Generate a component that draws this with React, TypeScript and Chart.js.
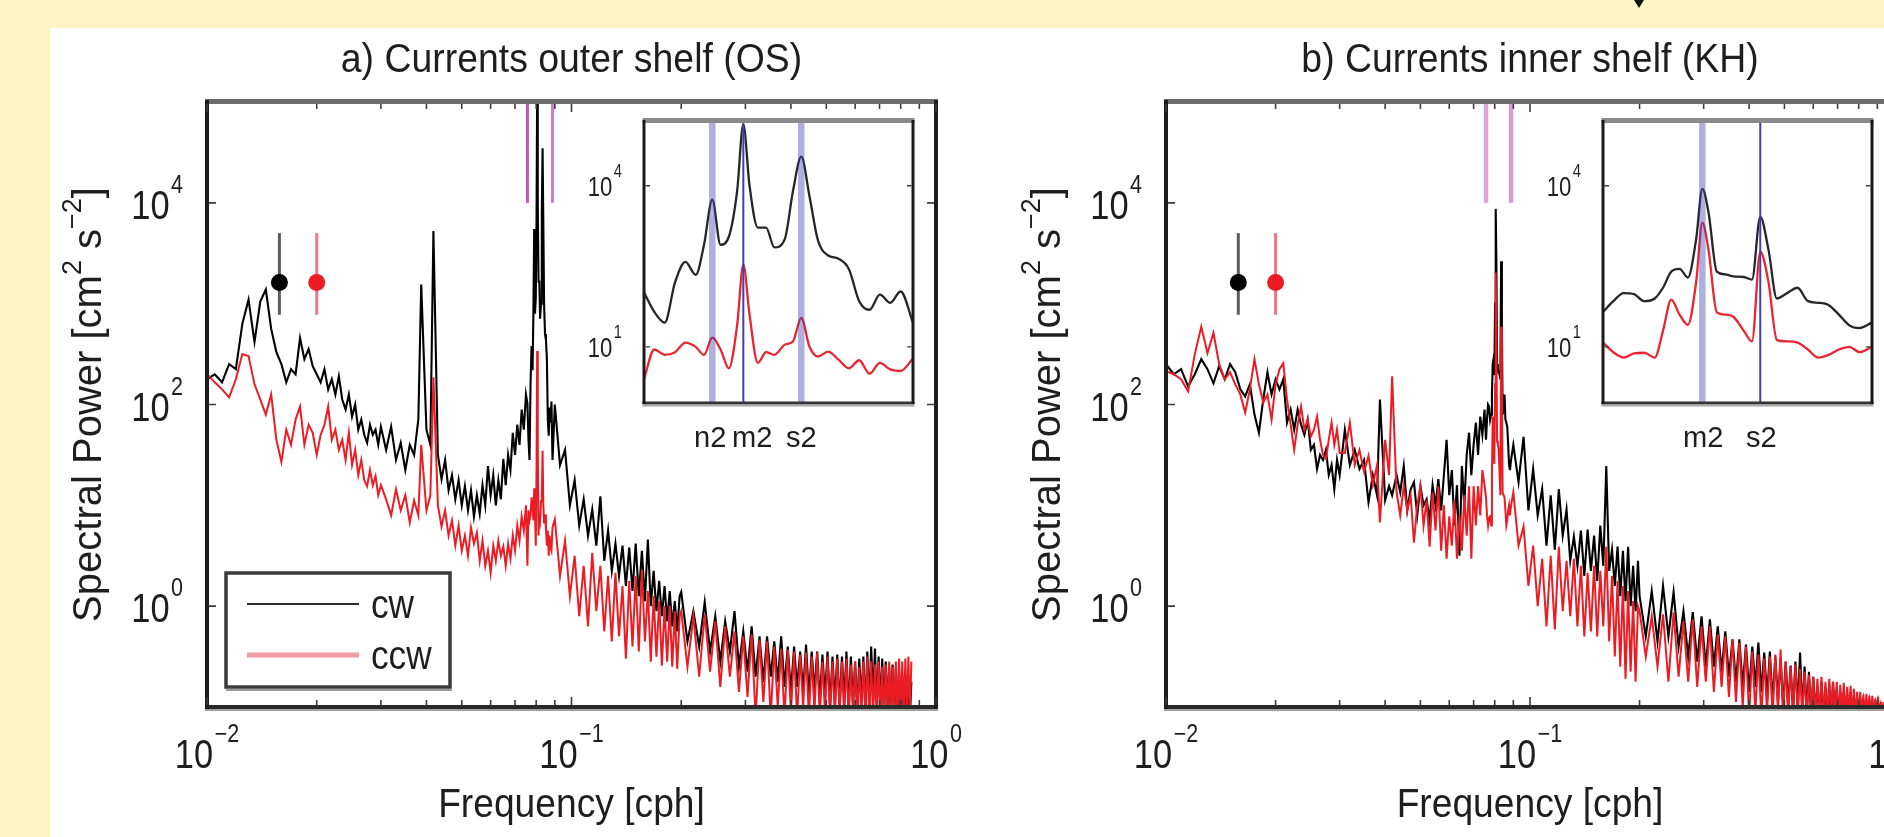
import React, { useEffect, useRef } from 'react';
import { Chart, registerables } from 'chart.js';

Chart.register(...registerables);

const FONT = '"Liberation Sans", Arial, Helvetica, sans-serif';
const PAGE_W = 1884;
const PAGE_H = 837;

// ---------------- frequency grid (cph) ----------------
const FREQ_LOW = [0.0100, 0.0105, 0.0110, 0.0115, 0.0120, 0.0125, 0.0130, 0.0135, 0.0140, 0.0145, 0.0150, 0.0155, 0.0160, 0.0165, 0.0170, 0.0175, 0.0180, 0.0185, 0.0190, 0.0195, 0.0200, 0.0205, 0.0210, 0.0215, 0.0220, 0.0225, 0.0230, 0.0235, 0.0240, 0.0245, 0.0250, 0.0255, 0.0260, 0.0265, 0.0270, 0.0275, 0.0280, 0.0285, 0.0290, 0.0295, 0.0300];
const FREQ_MID = [0.031, 0.032, 0.033, 0.034, 0.035, 0.036, 0.037, 0.038, 0.0387, 0.040, 0.041, 0.0418, 0.043, 0.044, 0.045, 0.046, 0.047, 0.048, 0.049, 0.050, 0.051, 0.052, 0.053, 0.054, 0.055, 0.056, 0.057, 0.058, 0.059, 0.060, 0.061, 0.062, 0.063, 0.064, 0.065, 0.066, 0.067, 0.068, 0.069, 0.070, 0.071, 0.072, 0.073, 0.074, 0.075];
const FREQ_TIDE = [0.0757, 0.0762, 0.0767, 0.0772, 0.0777, 0.0782, 0.0786, 0.0790, 0.0794, 0.0798, 0.0802, 0.0805, 0.0808, 0.0812, 0.0816, 0.0820, 0.0825, 0.0829, 0.0833, 0.0837, 0.0841, 0.0846, 0.0851, 0.0856, 0.0861, 0.0866, 0.0871, 0.0876, 0.0881, 0.0887];
const FREQ_D = [0.090, 0.093, 0.096, 0.099, 0.102, 0.105, 0.108, 0.111, 0.114, 0.117, 0.120, 0.123, 0.126, 0.129, 0.132, 0.135, 0.138, 0.141, 0.144, 0.147, 0.150, 0.153, 0.156, 0.159, 0.162, 0.165, 0.168, 0.171, 0.174, 0.177, 0.180, 0.183, 0.186, 0.189, 0.192, 0.195, 0.198];
const FREQ_HIGH = [0.200, 0.208, 0.216, 0.224, 0.232, 0.240, 0.248, 0.256, 0.264, 0.272, 0.280, 0.288, 0.296, 0.304, 0.312, 0.320, 0.328, 0.336, 0.344, 0.352, 0.360, 0.368, 0.376, 0.384, 0.392, 0.400, 0.408, 0.416, 0.424, 0.432, 0.440, 0.448, 0.456, 0.464, 0.472, 0.480, 0.488, 0.496, 0.504, 0.512, 0.520, 0.528, 0.536, 0.544, 0.552, 0.560, 0.568, 0.576, 0.584, 0.592, 0.600, 0.608, 0.616, 0.624, 0.632, 0.640, 0.648, 0.656, 0.664, 0.672, 0.680, 0.688, 0.696, 0.704, 0.712, 0.720, 0.728, 0.736, 0.744, 0.752, 0.760, 0.768, 0.776, 0.784, 0.792, 0.800, 0.808, 0.816, 0.824, 0.832, 0.840, 0.848, 0.856];
const FREQ_TAIL = [0.864, 0.872, 0.880, 0.888, 0.896, 0.904, 0.912, 0.920, 0.928, 0.936];

// ---------------- log10 spectral power [cm^2 s^-2], panel a (OS) ----------------
const osCwLow = [2.25, 2.30, 2.22, 2.40, 2.35, 2.80, 3.04, 2.62, 3.02, 3.14, 2.75, 2.52, 2.40, 2.22, 2.35, 2.30, 2.66, 2.45, 2.55, 2.38, 2.30, 2.22, 2.35, 2.15, 2.25, 2.10, 2.28, 2.05, 1.95, 2.10, 1.88, 2.00, 1.75, 1.85, 1.70, 1.62, 1.80, 1.70, 1.75, 1.60, 1.78];
const osCcwLow = [2.30, 2.22, 2.15, 2.07, 2.25, 2.50, 2.48, 2.20, 2.05, 1.90, 2.10, 1.65, 1.43, 1.75, 1.60, 1.85, 1.98, 1.60, 1.80, 1.72, 1.50, 1.70, 1.80, 1.98, 1.65, 1.75, 1.55, 1.65, 1.45, 1.72, 1.40, 1.55, 1.30, 1.45, 1.25, 1.19, 1.35, 1.20, 1.29, 1.10, 1.20];
const osCwMid = [1.55, 1.78, 1.45, 1.62, 1.35, 1.60, 1.50, 1.85, 3.19, 1.75, 1.60, 3.72, 1.50, 1.26, 1.45, 1.15, 1.30, 1.06, 1.25, 1.00, 1.19, 0.95, 1.15, 0.89, 1.10, 0.92, 1.20, 1.00, 1.39, 1.10, 1.30, 1.00, 1.25, 1.06, 1.46, 1.20, 1.50, 1.35, 1.72, 1.50, 1.80, 1.60, 1.95, 1.75, 2.10];
const osCcwMid = [1.06, 0.90, 1.16, 0.95, 1.10, 0.83, 1.05, 0.90, 1.60, 0.95, 1.10, 2.27, 1.00, 0.79, 0.95, 0.70, 0.85, 0.60, 0.80, 0.55, 0.70, 0.50, 0.78, 0.62, 0.73, 0.45, 0.65, 0.40, 0.55, 0.33, 0.60, 0.45, 0.65, 0.50, 0.59, 0.40, 0.62, 0.47, 0.70, 0.55, 0.80, 0.65, 0.89, 0.75, 1.00];
const osCwTide = [2.01, 1.65, 1.45, 2.20, 2.58, 2.34, 2.90, 3.74, 2.90, 3.05, 3.90, 5.14, 4.00, 3.22, 3.22, 2.85, 3.00, 3.90, 4.54, 3.80, 2.99, 2.70, 2.64, 2.45, 1.85, 1.69, 1.97, 1.82, 2.03, 1.45];
const osCcwTide = [0.40, 0.95, 0.85, 0.90, 1.08, 1.00, 0.85, 1.17, 0.95, 0.60, 1.40, 2.53, 1.60, 0.70, 0.90, 0.85, 1.04, 1.10, 1.54, 1.00, 0.82, 0.91, 0.76, 0.60, 0.75, 0.50, 0.70, 0.58, 0.55, 0.78];
const osCwD = [2.00, 1.40, 1.55, 1.00, 1.25, 0.80, 1.06, 0.70, 0.96, 0.60, 1.09, 0.45, 0.75, 0.35, 0.62, 0.30, 0.60, 0.20, 0.58, 0.15, 0.62, 0.10, 0.55, 0.05, 0.66, 0.00, 0.35, -0.05, 0.25, -0.10, 0.20, -0.15, 0.15, -0.20, 0.05, -0.25, 0.10];
const osCcwD = [0.86, 0.30, 0.65, 0.10, 0.50, -0.10, 0.40, -0.20, 0.53, -0.05, 0.40, -0.25, 0.30, -0.35, 0.33, -0.30, 0.20, -0.52, 0.25, -0.40, 0.30, -0.45, 0.36, -0.35, 0.15, -0.55, 0.10, -0.50, 0.05, -0.59, 0.00, -0.55, 0.00, -0.60, -0.05, -0.62, -0.10];
const osCwHigh = [
  0.14, -0.35, -0.05, -0.40, 0.04, -0.45, -0.10, -0.55, -0.15, -0.45,
  -0.05, -0.60, -0.25, -0.65, -0.20, -0.70, -0.30, -0.75, -0.30, -0.70,
  -0.35, -0.75, -0.30, -0.80, -0.40, -0.85, -0.40, -0.80, -0.45, -0.85,
  -0.38, -0.90, -0.45, -0.85, -0.45, -0.95, -0.48, -0.90, -0.45, -1.00,
  -0.50, -0.95, -0.48, -1.00, -0.50, -0.95, -0.45, -1.05, -0.50, -0.98,
  -0.55, -1.05, -0.52, -0.95, -0.50, -1.05, -0.45, -1.00, -0.40, -0.95,
  -0.42, -1.05, -0.50, -1.00, -0.52, -1.10, -0.55, -1.00, -0.60, -1.10,
  -0.58, -1.05, -0.62, -1.10, -0.65, -1.05, -0.68, -1.10, -0.70, -1.05,
  -0.72, -1.10, -0.75];
const osCcwHigh = [
  -0.05, -0.60, -0.10, -0.70, -0.08, -0.65, -0.15, -0.80, -0.20, -0.70,
  -0.25, -0.85, -0.30, -0.90, -0.28, -1.10, -0.33, -0.95, -0.35, -1.10,
  -0.40, -1.00, -0.42, -1.10, -0.43, -1.05, -0.45, -1.10, -0.48, -1.00,
  -0.46, -1.10, -0.50, -1.05, -0.46, -1.10, -0.55, -1.05, -0.50, -1.10,
  -0.55, -1.10, -0.52, -1.05, -0.55, -1.10, -0.52, -1.10, -0.58, -1.05,
  -0.55, -1.10, -0.60, -1.10, -0.55, -1.05, -0.50, -1.10, -0.55, -1.10,
  -0.58, -1.05, -0.55, -1.10, -0.60, -1.10, -0.58, -1.05, -0.55, -1.10,
  -0.60, -1.10, -0.55, -1.10, -0.52, -1.10, -0.55, -1.10, -0.52, -1.05,
  -0.50, -1.10, -0.55];

// ---------------- log10 spectral power, panel b (KH) ----------------
const khCwLow = [2.40, 2.30, 2.35, 2.18, 2.30, 2.45, 2.35, 2.21, 2.38, 2.25, 2.40, 2.32, 2.15, 2.08, 2.20, 1.90, 1.72, 2.05, 2.32, 2.10, 2.25, 2.15, 2.25, 1.82, 1.95, 1.75, 1.95, 1.80, 1.70, 1.85, 1.55, 1.60, 1.36, 1.50, 1.45, 1.55, 1.30, 1.40, 1.16, 1.45, 1.30];
const khCcwLow = [2.33, 2.30, 2.25, 2.13, 2.50, 2.77, 2.51, 2.71, 2.40, 2.25, 2.32, 2.20, 2.10, 1.92, 2.15, 2.45, 2.20, 2.02, 2.10, 1.85, 2.20, 2.35, 2.41, 2.05, 1.80, 1.55, 1.80, 1.98, 1.75, 1.85, 1.68, 1.75, 1.88, 1.65, 1.50, 1.46, 1.65, 1.82, 1.60, 1.75, 1.52];
const khCwMid = [1.75, 1.40, 1.55, 1.36, 1.45, 1.03, 1.30, 1.10, 2.05, 1.05, 1.19, 1.10, 1.30, 1.13, 1.39, 0.95, 1.16, 1.23, 0.90, 1.19, 1.00, 1.06, 0.85, 1.20, 1.00, 1.26, 0.95, 1.30, 1.65, 1.10, 1.35, 0.80, 1.20, 0.50, 1.39, 1.00, 1.50, 1.72, 1.30, 1.60, 1.82, 1.50, 1.88, 1.70, 1.95];
const khCcwMid = [1.52, 1.82, 1.40, 1.55, 1.33, 1.49, 1.20, 1.40, 0.83, 1.65, 1.30, 2.28, 1.13, 0.90, 1.19, 0.95, 1.10, 0.63, 1.00, 1.19, 0.80, 1.05, 0.59, 1.13, 0.75, 1.19, 0.55, 1.00, 0.47, 0.89, 0.60, 1.05, 0.47, 0.90, 0.55, 1.10, 0.70, 1.19, 0.47, 1.19, 0.80, 1.19, 0.90, 1.35, 1.20];
const khCwTide = [1.65, 1.85, 2.00, 1.98, 1.85, 1.90, 2.10, 2.40, 2.45, 2.29, 3.00, 3.94, 3.50, 2.40, 2.35, 2.31, 2.30, 2.25, 3.42, 2.80, 1.90, 2.00, 2.10, 1.85, 1.82, 1.78, 1.60, 1.40, 1.35, 1.45];
const khCcwTide = [1.08, 0.90, 0.80, 0.88, 0.89, 0.80, 1.30, 1.88, 1.60, 1.41, 2.20, 3.31, 2.80, 1.64, 1.60, 1.56, 1.30, 1.10, 2.77, 2.20, 1.13, 1.10, 1.08, 0.95, 0.80, 0.85, 0.95, 1.00, 0.90, 1.00];
const khCwD = [1.60, 1.23, 1.68, 0.95, 1.36, 0.90, 1.16, 0.60, 1.10, 0.56, 1.16, 0.70, 0.96, 0.45, 0.69, 0.40, 0.75, 0.30, 0.76, 0.35, 0.70, 0.25, 0.80, 0.40, 1.39, 0.35, 0.56, 0.20, 0.59, 0.10, 0.55, 0.05, 0.59, 0.00, 0.40, -0.05, 0.45];
const khCcwD = [1.13, 0.60, 0.79, 0.20, 0.60, 0.00, 0.47, -0.20, 0.50, -0.23, 0.59, -0.05, 0.45, -0.10, 0.47, -0.20, 0.40, -0.30, 0.33, -0.25, 0.40, -0.30, 0.35, -0.20, 0.59, -0.35, 0.30, -0.50, 0.25, -0.60, 0.20, -0.72, 0.15, -0.65, 0.05, -0.75, 0.00];
const khCwHigh = [
  0.10, -0.30, 0.15, -0.35, 0.20, -0.30, 0.14, -0.40, -0.05, -0.50,
  -0.06, -0.55, -0.10, -0.60, -0.13, -0.60, -0.20, -0.65, -0.25, -0.70,
  -0.33, -0.75, -0.33, -0.80, -0.38, -0.85, -0.40, -0.80, -0.36, -0.85,
  -0.46, -0.90, -0.45, -0.95, -0.50, -0.95, -0.52, -1.00, -0.55, -1.00,
  -0.59, -1.05, -0.55, -1.00, -0.46, -1.05, -0.60, -1.05, -0.65, -1.10,
  -0.70, -1.05, -0.79, -1.10, -0.75, -1.10, -0.80, -1.10, -0.78, -1.10,
  -0.75, -1.10, -0.82, -1.10, -0.85, -1.10, -0.85, -1.10, -0.88, -1.10,
  -0.85, -1.10, -0.90, -1.10, -0.90, -1.10, -0.92, -1.10, -0.95, -1.10,
  -0.95, -1.10, -0.96];
const khCwTail = [-1.10, -0.95, -1.10, -0.98, -1.10, -0.97, -1.10, -1.00, -1.10, -1.00];
const khCcwHigh = [
  -0.05, -0.50, -0.10, -0.60, -0.08, -0.75, -0.06, -0.70, -0.15, -0.75,
  -0.13, -0.80, -0.20, -0.75, -0.20, -0.85, -0.28, -0.80, -0.30, -0.90,
  -0.33, -0.95, -0.36, -1.00, -0.40, -1.10, -0.45, -1.05, -0.48, -1.10,
  -0.52, -1.05, -0.50, -1.10, -0.48, -1.05, -0.43, -1.10, -0.55, -1.10,
  -0.60, -1.05, -0.58, -1.10, -0.62, -1.10, -0.65, -1.10, -0.68, -1.05,
  -0.70, -1.10, -0.72, -1.10, -0.70, -1.10, -0.75, -1.10, -0.72, -1.10,
  -0.75, -1.10, -0.75, -1.10, -0.78, -1.10, -0.76, -1.10, -0.80, -1.10,
  -0.79, -1.10, -0.82, -1.10, -0.85, -1.10, -0.85, -1.10, -0.88, -1.10,
  -0.87, -1.10, -0.89];
const khCcwTail = [-1.10, -0.89, -1.10, -0.92, -1.10, -0.90, -1.10, -0.95, -1.10, -0.95];

// ---------------- annotations ----------------
const TIDE_NAMES = ['n2', 'm2', 's2'];
const TIDE_FREQS = [0.0790, 0.0805, 0.0833];
const INSET_RANGE = [0.0757, 0.0887];
const MAG_LOW = 1e4;
const MAG_HIGH = 1e5;
const ERR_FREQ = [0.0158, 0.0200];
const ERR_MID = [1620, 1620];
const ERR_LO = [776, 776];
const ERR_HI = [5010, 5010];
const LEGEND_LABELS = ['cw', 'ccw'];

// axes
const X_MAJOR = [0.01, 0.1, 1];
const X_MINOR = [0.02, 0.03, 0.04, 0.05, 0.06, 0.07, 0.08, 0.09, 0.2, 0.3, 0.4, 0.5, 0.6, 0.7, 0.8, 0.9];
const Y_MAJOR = [1, 100, 10000];
const INSET_Y_MAJOR = [10, 10000];

const FREQ_GROUPS = [FREQ_LOW, FREQ_MID, FREQ_TIDE, FREQ_D, FREQ_HIGH, FREQ_TAIL];

function toPoints(groups: any[]) {
  const pts: any[] = [];
  FREQ_GROUPS.forEach((fs, g) => {
    const vals = groups[g];
    if (!vals) return;
    fs.forEach((f, i) => {
      if (i < vals.length) pts.push({ x: f, y: Math.pow(10, vals[i]) });
    });
  });
  return pts;
}
function tidePoints(vals: number[]) {
  return FREQ_TIDE.map((f, i) => ({ x: f, y: Math.pow(10, vals[i]) }));
}

// ---------------- text helpers ----------------
function txt(ctx: any, s: string, x: number, y: number, size: number, sx = 1, align = 'left', color = '#1e1e1e') {
  ctx.save();
  ctx.font = `${size}px ${FONT}`;
  ctx.fillStyle = color;
  ctx.textBaseline = 'alphabetic';
  ctx.textAlign = align;
  ctx.translate(x, y);
  ctx.scale(sx, 1);
  ctx.fillText(s, 0, 0);
  ctx.restore();
}
function measure(ctx: any, s: string, size: number, sx = 1) {
  ctx.save();
  ctx.font = `${size}px ${FONT}`;
  const w = ctx.measureText(s).width * sx;
  ctx.restore();
  return w;
}
function pow10Label(ctx: any, value: number, x: number, base: number, align: string, big: number, small: number, raise: number, sx: number) {
  const exp = Math.round(Math.log10(value));
  const e = exp < 0 ? '\u2212' + Math.abs(exp) : String(exp);
  const w10 = measure(ctx, '10', big, sx);
  const we = measure(ctx, e, small, sx);
  const gap = 1.5;
  const total = w10 + gap + we;
  const x0 = align === 'center' ? x - total / 2 : x - total;
  txt(ctx, '10', x0, base, big, sx);
  txt(ctx, e, x0 + w10 + gap, base - raise, small, sx);
}

// ---------------- panel definitions ----------------
const PANELS = [
  {
    id: 'os',
    title: 'a) Currents outer shelf (OS)',
    canvasW: PAGE_W,
    padding: { left: 207, top: 102, right: PAGE_W - 936, bottom: PAGE_H - 707 },
    cw: [osCwLow, osCwMid, osCwTide, osCwD, osCwHigh],
    ccw: [osCcwLow, osCcwMid, osCcwTide, osCcwD, osCcwHigh],
    magColors: ['#C254B4', '#CF7DC4'],
    magWidth: 3,
    legend: true,
  },
  {
    id: 'kh',
    title: 'b) Currents inner shelf (KH)',
    canvasW: PAGE_W + 20,
    padding: { left: 1166, top: 102, right: 10, bottom: PAGE_H - 707 },
    cw: [khCwLow, khCwMid, khCwTide, khCwD, khCwHigh, khCwTail],
    ccw: [khCcwLow, khCcwMid, khCcwTide, khCcwD, khCcwHigh, khCcwTail],
    magColors: ['#DBA5D7', '#D79ED3'],
    magWidth: 4.5,
    legend: false,
  },
];

const INSETS = [
  {
    id: 'os-inset',
    padding: { left: 644, top: 121, right: PAGE_W - 913, bottom: PAGE_H - 403 },
    cw: osCwTide,
    ccw: osCcwTide,
    lines: [
      { idx: 0, thick: true, dx: -2 },
      { idx: 1, thick: false, dx: 9 },
      { idx: 2, thick: true, dx: 0 },
    ],
  },
  {
    id: 'kh-inset',
    padding: { left: 1603, top: 121, right: PAGE_W - 1872, bottom: PAGE_H - 403 },
    cw: khCwTide,
    ccw: khCcwTide,
    lines: [
      { idx: 1, thick: true, dx: 1 },
      { idx: 2, thick: false, dx: 1 },
    ],
  },
];

// ---------------- plugins ----------------
function mainDecor(p: any) {
  return {
    id: 'mainDecor',
    afterDraw(chart: any) {
      const ctx = chart.ctx;
      const a = chart.chartArea;
      const xs = chart.scales.x;
      const ys = chart.scales.y;
      const w = a.right - a.left;
      const h = a.bottom - a.top;
      ctx.save();
      // frame
      ctx.fillStyle = '#6c6c6c';
      ctx.fillRect(a.left - 2, a.top - 3, w + 4, 5);
      ctx.fillStyle = '#2a2a2a';
      ctx.fillRect(a.left - 2, a.bottom - 2, w + 4, 4);
      ctx.fillStyle = '#a2a2a2';
      ctx.fillRect(a.left - 2, a.bottom + 2, w + 4, 2);
      ctx.fillStyle = '#1c1c1c';
      ctx.fillRect(a.left - 2, a.top - 2, 4, h + 4);
      ctx.fillRect(a.right - 2, a.top - 2, 4, h + 4);
      // ticks
      ctx.strokeStyle = '#3c3c3c';
      ctx.lineWidth = 1.6;
      const xt = (v: number, len: number) => {
        const px = xs.getPixelForValue(v);
        if (px < a.left - 1 || px > a.right + 1) return;
        ctx.beginPath();
        ctx.moveTo(px, a.bottom - 2);
        ctx.lineTo(px, a.bottom - 2 - len);
        ctx.moveTo(px, a.top + 2);
        ctx.lineTo(px, a.top + 2 + len);
        ctx.stroke();
      };
      X_MINOR.forEach((v) => xt(v, 5));
      X_MAJOR.forEach((v) => xt(v, 8));
      Y_MAJOR.forEach((v) => {
        const py = ys.getPixelForValue(v);
        ctx.beginPath();
        ctx.moveTo(a.left + 2, py);
        ctx.lineTo(a.left + 9, py);
        ctx.moveTo(a.right - 2, py);
        ctx.lineTo(a.right - 9, py);
        ctx.stroke();
      });
      // tick labels
      X_MAJOR.forEach((v) => pow10Label(ctx, v, xs.getPixelForValue(v), a.bottom + 61, 'center', 40, 25, 26, 0.86));
      Y_MAJOR.forEach((v) => pow10Label(ctx, v, a.left - 24, ys.getPixelForValue(v) + 16, 'right', 40, 25, 26, 0.86));
      // title
      txt(ctx, p.title, (a.left + a.right) / 2, a.top - 30, 40, 0.935, 'center');
      // x axis title
      txt(ctx, 'Frequency [cph]', (a.left + a.right) / 2, a.bottom + 110, 40, 0.93, 'center');
      // y axis title with superscripts
      const parts = [
        { t: 'Spectral Power [cm', sup: false },
        { t: '2', sup: true },
        { t: ' s', sup: false },
        { t: '\u22122', sup: true },
        { t: ']', sup: false },
      ];
      const big = 40;
      const small = 27;
      let total = 0;
      parts.forEach((q) => (total += measure(ctx, q.t, q.sup ? small : big)));
      ctx.save();
      ctx.translate(a.left - 106, (a.top + a.bottom) / 2);
      ctx.rotate(-Math.PI / 2);
      let cx = -total / 2;
      parts.forEach((q) => {
        const s = q.sup ? small : big;
        txt(ctx, q.t, cx, q.sup ? -20 : 0, s);
        cx += measure(ctx, q.t, s);
      });
      ctx.restore();
      // legend
      if (p.legend) {
        const lx = a.left + 19;
        const ly = a.bottom - 134;
        ctx.fillStyle = '#ffffff';
        ctx.fillRect(lx, ly, 224, 114);
        ctx.strokeStyle = '#3a3a3a';
        ctx.lineWidth = 3.5;
        ctx.strokeRect(lx, ly, 224, 114);
        ctx.fillStyle = '#9a9a9a';
        ctx.fillRect(lx, ly + 116, 226, 2);
        ctx.lineWidth = 2.2;
        ctx.strokeStyle = '#2a2a2a';
        ctx.beginPath();
        ctx.moveTo(lx + 21, a.bottom - 103);
        ctx.lineTo(lx + 133, a.bottom - 103);
        ctx.stroke();
        ctx.lineWidth = 5;
        ctx.strokeStyle = '#F39BA3';
        ctx.beginPath();
        ctx.moveTo(lx + 21, a.bottom - 52);
        ctx.lineTo(lx + 133, a.bottom - 52);
        ctx.stroke();
        txt(ctx, LEGEND_LABELS[0], lx + 145, a.bottom - 89, 40, 0.88);
        txt(ctx, LEGEND_LABELS[1], lx + 145, a.bottom - 38, 40, 0.88);
      }
      ctx.restore();
    },
  };
}

function insetDecor(p: any) {
  return {
    id: 'insetDecor',
    beforeDraw(chart: any) {
      const a = chart.chartArea;
      const ctx = chart.ctx;
      ctx.save();
      ctx.fillStyle = '#ffffff';
      ctx.fillRect(a.left, a.top, a.right - a.left, a.bottom - a.top);
      ctx.restore();
    },
    afterDraw(chart: any) {
      const ctx = chart.ctx;
      const a = chart.chartArea;
      const xs = chart.scales.x;
      const ys = chart.scales.y;
      const w = a.right - a.left;
      const h = a.bottom - a.top;
      ctx.save();
      ctx.fillStyle = '#8a8a8a';
      ctx.fillRect(a.left - 1.5, a.top - 3, w + 3, 5);
      ctx.fillStyle = '#333333';
      ctx.fillRect(a.left - 1.5, a.bottom - 1.5, w + 3, 3);
      ctx.fillStyle = '#a8a8a8';
      ctx.fillRect(a.left - 1.5, a.bottom + 1.5, w + 3, 2);
      ctx.fillStyle = '#1a1a1a';
      ctx.fillRect(a.left - 1.5, a.top - 1, 3, h + 2);
      ctx.fillRect(a.right - 1.5, a.top - 1, 3, h + 2);
      ctx.strokeStyle = '#3c3c3c';
      ctx.lineWidth = 1.4;
      INSET_Y_MAJOR.forEach((v) => {
        const py = ys.getPixelForValue(v);
        ctx.beginPath();
        ctx.moveTo(a.left + 1.5, py);
        ctx.lineTo(a.left + 6, py);
        ctx.moveTo(a.right - 1.5, py);
        ctx.lineTo(a.right - 6, py);
        ctx.stroke();
        pow10Label(ctx, v, a.left - 22, py + 10, 'right', 27, 18, 19, 0.82);
      });
      p.lines.forEach((l: any) => {
        const px = xs.getPixelForValue(TIDE_FREQS[l.idx]);
        txt(ctx, TIDE_NAMES[l.idx], px + l.dx, a.bottom + 44, 30, 0.97, 'center');
      });
      ctx.restore();
    },
  };
}

// ---------------- configs ----------------
function mainConfig(p: any) {
  const ds: any[] = [
    { label: 'cw', data: toPoints(p.cw), borderColor: '#000000', borderWidth: 2.1, pointRadius: 0, order: 6 },
    { label: 'ccw', data: toPoints(p.ccw), borderColor: '#EC1C24', borderWidth: 2.0, pointRadius: 0, order: 5 },
  ];
  ERR_FREQ.forEach((f, i) => {
    ds.push({
      label: LEGEND_LABELS[i] + ' error',
      data: [{ x: f, y: ERR_LO[i] }, { x: f, y: ERR_HI[i] }],
      borderColor: i ? '#F27780' : '#5c5c5c',
      borderWidth: 3,
      pointRadius: 0,
      order: 4,
    });
    ds.push({
      type: 'scatter',
      label: LEGEND_LABELS[i] + ' mean',
      data: [{ x: f, y: ERR_MID[i] }],
      pointRadius: 8.5,
      pointBackgroundColor: i ? '#EC1C24' : '#000000',
      pointBorderWidth: 0,
      borderWidth: 0,
      showLine: false,
      order: 3,
    });
  });
  INSET_RANGE.forEach((f, i) => {
    ds.push({
      label: 'inset range ' + (i + 1),
      data: [{ x: f, y: MAG_LOW }, { x: f, y: MAG_HIGH }],
      borderColor: p.magColors[i],
      borderWidth: p.magWidth,
      pointRadius: 0,
      order: 2,
    });
  });
  return {
    type: 'line',
    data: { datasets: ds },
    options: {
      responsive: false,
      animation: false,
      devicePixelRatio: 1,
      events: [],
      layout: { padding: p.padding },
      plugins: { legend: { display: false }, tooltip: { enabled: false }, title: { display: false } },
      scales: {
        x: { type: 'logarithmic', min: 0.01, max: 1, display: false },
        y: { type: 'logarithmic', min: 0.1, max: 1e5, display: false },
      },
    },
    plugins: [mainDecor(p)],
  };
}

function insetConfig(p: any) {
  const lo = 0.9;
  const hi = 1.6e5;
  const ds: any[] = [
    { label: 'cw', data: tidePoints(p.cw), borderColor: '#262626', borderWidth: 2.3, pointRadius: 0, cubicInterpolationMode: 'monotone', order: 4 },
    { label: 'ccw', data: tidePoints(p.ccw), borderColor: '#E9262F', borderWidth: 2.3, pointRadius: 0, cubicInterpolationMode: 'monotone', order: 3 },
  ];
  p.lines.forEach((l: any) => {
    const f = TIDE_FREQS[l.idx];
    ds.push({
      label: TIDE_NAMES[l.idx],
      data: [{ x: f, y: lo }, { x: f, y: hi }],
      borderColor: l.thick ? 'rgba(62,62,178,0.42)' : '#3f3fb0',
      borderWidth: l.thick ? 6.5 : 2,
      pointRadius: 0,
      order: 1,
    });
  });
  return {
    type: 'line',
    data: { datasets: ds },
    options: {
      responsive: false,
      animation: false,
      devicePixelRatio: 1,
      events: [],
      layout: { padding: p.padding },
      plugins: { legend: { display: false }, tooltip: { enabled: false }, title: { display: false } },
      scales: {
        x: { type: 'linear', min: INSET_RANGE[0], max: INSET_RANGE[1], display: false },
        y: { type: 'logarithmic', min: lo, max: hi, display: false },
      },
    },
    plugins: [insetDecor(p)],
  };
}

function ChartCanvas({ makeConfig, width, height }: any) {
  const ref = useRef<HTMLCanvasElement>(null);
  useEffect(() => {
    const chart = new Chart(ref.current as any, makeConfig());
    return () => chart.destroy();
  }, []);
  return (
    <canvas
      ref={ref}
      width={width}
      height={height}
      style={{ position: 'absolute', left: 0, top: 0, width, height, pointerEvents: 'none' }}
    />
  );
}

export default function App() {
  return (
    <div
      style={{
        position: 'fixed',
        left: 0,
        top: 0,
        width: PAGE_W,
        height: PAGE_H,
        overflow: 'hidden',
        background: '#FBF5C2',
      }}
    >
      <div style={{ position: 'absolute', left: 50, top: 28, right: 0, bottom: 0, background: '#ffffff' }} />
      <div
        style={{
          position: 'absolute',
          left: 1634,
          top: 0,
          width: 0,
          height: 0,
          borderLeft: '5px solid transparent',
          borderRight: '5px solid transparent',
          borderTop: '8px solid #111',
        }}
      />
      {PANELS.map((p) => (
        <ChartCanvas key={p.id} makeConfig={() => mainConfig(p)} width={p.canvasW} height={PAGE_H} />
      ))}
      {INSETS.map((p) => (
        <ChartCanvas key={p.id} makeConfig={() => insetConfig(p)} width={PAGE_W} height={PAGE_H} />
      ))}
    </div>
  );
}
